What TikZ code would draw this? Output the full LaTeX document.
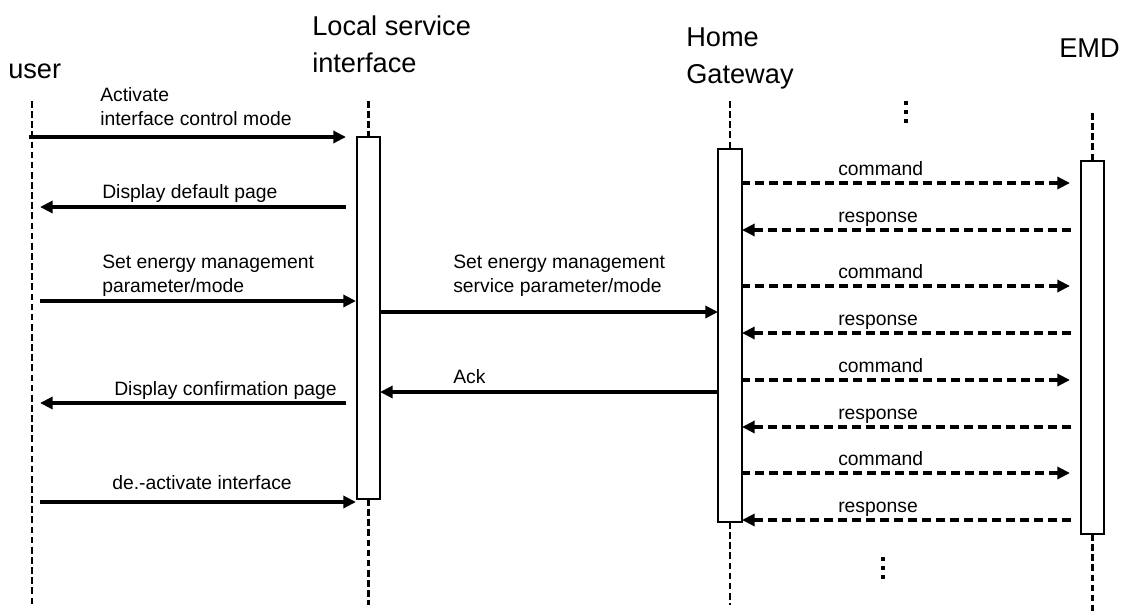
\documentclass[tikz,border=0pt]{standalone}
\usepackage{fontspec}
\setmainfont{Liberation Sans}
\usetikzlibrary{arrows.meta}
\begin{document}
\begin{tikzpicture}[x=0.75pt,y=-0.75pt,
  head/.style={font=\fontsize{20.4pt}{27.75pt}\selectfont, inner sep=0pt, anchor=base west, align=left},
  lbl/.style={font=\fontsize{14.5pt}{17.4pt}\selectfont, inner sep=0pt, anchor=base west, align=left},
  lifeline/.style={line width=2.1pt, dash pattern=on 5pt off 2.6pt},
  actbox/.style={draw, line width=0.8pt, fill=white, inner sep=0pt, outer sep=0pt},
  msg/.style={line width=2.5pt, -{Triangle[length=9.5pt,width=9pt]}},
  dmsg/.style={msg, dash pattern=on 6.6pt off 3.9pt},
  dot/.style={fill=black, inner sep=0pt, minimum width=2.6pt, minimum height=3.4pt}]
\useasboundingbox (0,0) rectangle (1136,611);

% participants (multi-line heads are placed by the baseline of their last line)
\node[head] (user) at (8,78) {user};
\node[head] (lsi) at (312,72) {Local service\\interface};
\node[head] (hg) at (686,83) {Home\\Gateway};
\node[head] (emd) at (1059,57) {EMD};

% activation bars
\node[actbox, minimum width=17.25pt, minimum height=271.5pt] (lsibar) at (368.5,318) {};
\node[actbox, minimum width=18pt, minimum height=279.75pt] (hgbar) at (730,335.5) {};
\node[actbox, minimum width=17.25pt, minimum height=279.75pt] (emdbar) at (1092.5,347.5) {};

% lifelines
\coordinate (usertop) at (32,101);
\coordinate (userbot) at (32,605);
\coordinate (lsitop) at (368.5,101);
\coordinate (lsibot) at (368.5,605);
\coordinate (hgtop) at (730,101);
\coordinate (hgbot) at (730,605);
\coordinate (emdtop) at (1092.5,113);
\coordinate (emdbot) at (1092.5,611);
\draw[lifeline] (usertop) -- (userbot);
\draw[lifeline] (lsitop) -- (lsibar.north);
\draw[lifeline] (lsibar.south) -- (lsibot);
\draw[lifeline] (hgtop) -- (hgbar.north);
\draw[lifeline] (hgbar.south) -- (hgbot);
\draw[lifeline] (emdtop) -- (emdbar.north);
\draw[lifeline] (emdbar.south) -- (emdbot);

% user <-> local service interface
\coordinate (m1a) at (29,137);  \coordinate (m1b) at (346,137);
\coordinate (m2a) at (346,207); \coordinate (m2b) at (40,207);
\coordinate (m3a) at (40,301);  \coordinate (m3b) at (356,301);
\coordinate (m6a) at (346,403); \coordinate (m6b) at (40,403);
\coordinate (m7a) at (40,502);  \coordinate (m7b) at (356,502);
\draw[msg] (m1a) -- (m1b);
\draw[msg] (m2a) -- (m2b);
\draw[msg] (m3a) -- (m3b);
\draw[msg] (m6a) -- (m6b);
\draw[msg] (m7a) -- (m7b);
\node[lbl] (l1) at (100,125) {Activate\\interface control mode};
\node[lbl] (l2) at (102,198) {Display default page};
\node[lbl] (l3) at (102,292) {Set energy management\\parameter/mode};
\node[lbl] (l6) at (114,395) {Display confirmation page};
\node[lbl] (l7) at (112,489) {de.-activate interface};

% local service interface <-> home gateway
\coordinate (m4a) at (380,312); \coordinate (m4b) at (718,312);
\coordinate (m5a) at (719,392); \coordinate (m5b) at (380,392);
\draw[msg] (m4a) -- (m4b);
\draw[msg] (m5a) -- (m5b);
\node[lbl] (l4) at (453,292) {Set energy management\\service parameter/mode};
\node[lbl] (l5) at (453,383) {Ack};

% home gateway <-> EMD exchanges
\foreach \i/\yc/\yr in {1/183/230, 2/286/333, 3/380/427, 4/473/520} {
  \coordinate (c\i a) at (741,\yc);  \coordinate (c\i b) at (1070,\yc);
  \coordinate (r\i a) at (1071,\yr); \coordinate (r\i b) at (742,\yr);
  \draw[dmsg] (c\i a) -- (c\i b);
  \draw[dmsg] (r\i a) -- (r\i b);
  \node[lbl] (cl\i) at (838,\yc-8) {command};
  \node[lbl] (rl\i) at (838,\yr-8) {response};
}

% continuation marks
\node[dot] (ta) at (906,103) {};
\node[dot] (tb) at (906,112) {};
\node[dot] (tc) at (906,121) {};
\node[dot] (ba) at (883,559) {};
\node[dot] (bb) at (883,568) {};
\node[dot] (bc) at (883,577) {};
\end{tikzpicture}
\end{document}
